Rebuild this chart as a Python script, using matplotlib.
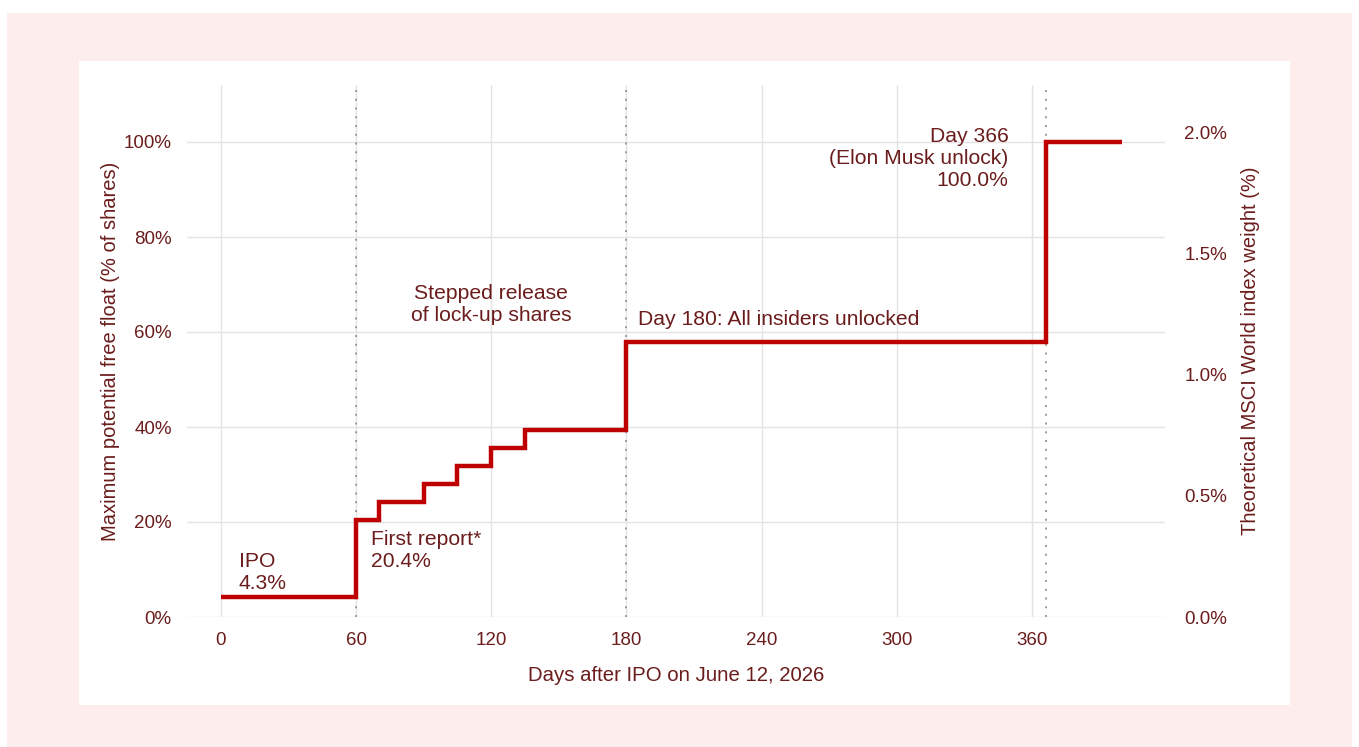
import matplotlib.pyplot as plt
from matplotlib.patches import Rectangle
from matplotlib.ticker import FuncFormatter

plt.rcParams['font.family'] = ['Liberation Sans', 'DejaVu Sans']

# lock-up schedule
days = [0, 60, 70, 90, 105, 120, 135, 180, 366, 400]
free_float = [4.3, 20.4, 24.2, 28.0, 31.8, 35.6, 39.3, 58.0, 100.0, 100.0]
event_days = [60, 180, 366]
x_ticks = [0, 60, 120, 180, 240, 300, 360]
y_ticks = [0, 20, 40, 60, 80, 100]
weight_ticks = [0.0, 0.5, 1.0, 1.5, 2.0]
weight_per_float = 0.0196  # 100% float ~ 1.96% index weight

text_col = '#6B1C1C'
line_col = '#BE0000'
W, H = 1359, 747

fig = plt.figure(figsize=(W / 100, H / 100), dpi=100, facecolor='white')
fig.patches.append(Rectangle((7 / W, 0), 1345 / W, 1 - 13 / H, transform=fig.transFigure,
                             facecolor='#FDEEED', edgecolor='none', zorder=-2))
fig.patches.append(Rectangle((79 / W, 1 - 705 / H), 1211 / W, 644 / H, transform=fig.transFigure,
                             facecolor='white', edgecolor='none', zorder=-1))

ax = fig.add_axes([187 / W, 1 - 617 / H, 978 / W, 532 / H])
ax.set_facecolor('none')
ax.set_xlim(-15, 419)
ax.set_ylim(0, 112)

for v in y_ticks:
    ax.axhline(v, color='#E4E4E4', lw=1, zorder=0)
for v in x_ticks:
    ax.axvline(v, color='#E4E4E4', lw=1, zorder=0)
for d in event_days:
    ax.axvline(d, color='#9A9A9A', lw=1.4, ls=(0, (1, 3.5)), zorder=1)

ax.plot(days, free_float, drawstyle='steps-post', color=line_col, lw=3.2, zorder=3,
        solid_joinstyle='miter', solid_capstyle='butt')

for s in ax.spines.values():
    s.set_visible(False)
ax.set_xticks(x_ticks)
ax.set_yticks(y_ticks)
ax.yaxis.set_major_formatter(FuncFormatter(lambda v, p: f'{v:.0f}%'))
ax.tick_params(length=0, labelsize=13.5, labelcolor=text_col, pad=11)
ax.set_xlabel('Days after IPO on June 12, 2026', fontsize=14.7, color=text_col, labelpad=12)
ax.set_ylabel('Maximum potential free float (% of shares)', fontsize=14.5, color=text_col, labelpad=3)

ax2 = ax.twinx()
ax2.set_ylim(0, 112 * weight_per_float)
ax2.set_yticks(weight_ticks)
ax2.yaxis.set_major_formatter(FuncFormatter(lambda v, p: f'{v:.1f}%'))
ax2.tick_params(length=0, labelsize=13.5, labelcolor=text_col, pad=14)
for s in ax2.spines.values():
    s.set_visible(False)
ax2.set_ylabel('Theoretical MSCI World index weight (%)', fontsize=14.5, color=text_col, labelpad=10)

fs = 15.2
ax.text(8, 5.0, 'IPO\n4.3%', ha='left', va='bottom', fontsize=fs, color=text_col, linespacing=1.2)
ax.text(66.5, 18.4, 'First report*\n20.4%', ha='left', va='top', fontsize=fs, color=text_col, linespacing=1.2)
ax.text(120, 65.8, 'Stepped release\nof lock-up shares', ha='center', va='center', fontsize=fs,
        color=text_col, linespacing=1.22)
ax.text(185, 60.6, 'Day 180: All insiders unlocked', ha='left', va='bottom', fontsize=fs, color=text_col)
ax.text(349.5, 103.2, 'Day 366\n(Elon Musk unlock)\n100.0%', ha='right', va='top', fontsize=fs,
        color=text_col, linespacing=1.2)

fig.savefig('out.png', dpi=100, facecolor=fig.get_facecolor())
